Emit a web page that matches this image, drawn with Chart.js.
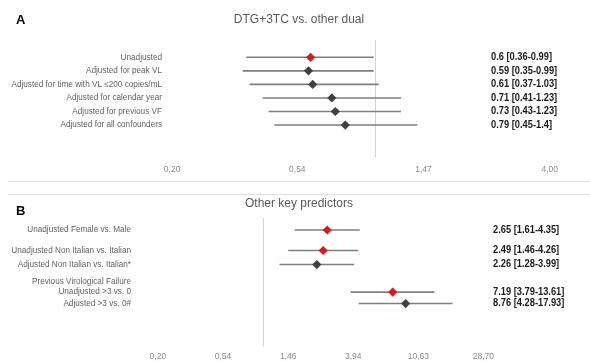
<!DOCTYPE html>
<html>
<head>
<meta charset="utf-8">
<script src="https://cdn.jsdelivr.net/npm/chart.js@4.4.1/dist/chart.umd.min.js"></script>
<style>
  html, body { margin: 0; padding: 0; background: #fff; }
  #wrap { position: relative; width: 590px; height: 362px; overflow: hidden; }
  canvas { position: absolute; left: 0; }
  .rule { position: absolute; left: 8px; right: 0; height: 1px; background: #e0e0e0; }
</style>
</head>
<body>
<div id="wrap">
  <canvas id="panelA" width="590" height="182" style="top:0"></canvas>
  <div class="rule" style="top:181px"></div>
  <div class="rule" style="top:194px"></div>
  <canvas id="panelB" width="590" height="167" style="top:195px"></canvas>
</div>
<script>
// Panel A: DTG+3TC vs. other dual regimens (odds ratio [95% CI])
const labelsA = [
  'Unadjusted',
  'Adjusted for peak VL',
  'Adjusted for time with VL \u2264200 copies/mL',
  'Adjusted for calendar year',
  'Adjusted for previous VF',
  'Adjusted for all confounders'
];
const rowsA = [0, 1, 2, 3, 4, 5];
const orA = [0.6, 0.59, 0.61, 0.71, 0.73, 0.79];
const lowA = [0.36, 0.35, 0.37, 0.41, 0.43, 0.45];
const highA = [0.99, 0.99, 1.03, 1.23, 1.23, 1.4];
const unadjustedA = [true, false, false, false, false, false];
const ticksA = [0.20, 0.54, 1.47, 4.00];
const tickLabelsA = ['0,20', '0,54', '1,47', '4,00'];

// Panel B: other key predictors
const labelsB = [
  'Unadjusted Female vs. Male',
  'Unadjusted Non Italian vs. Italian',
  'Adjusted Non Italian vs. Italian*',
  'Previous Virological Failure',
  'Unadjusted >3 vs. 0',
  'Adjusted >3 vs. 0#'
];
const rowsB = [0, 1.52, 2.56, 3.8, 4.6, 5.45];
const orB = [2.65, 2.49, 2.26, null, 7.19, 8.76];
const lowB = [1.61, 1.46, 1.28, null, 3.79, 4.28];
const highB = [4.35, 4.26, 3.99, null, 13.61, 17.93];
const unadjustedB = [true, true, false, false, true, false];
const ticksB = [0.20, 0.54, 1.46, 3.94, 10.63, 28.70];
const tickLabelsB = ['0,20', '0,54', '1,46', '3,94', '10,63', '28,70'];

const RED = '#e3141d';
const DARK = '#404040';
const WHISKER = '#7f7f7f';
const SANS = "'Liberation Sans', Arial, sans-serif";

// Vertical line at OR = 1
const nullLine = {
  id: 'nullLine',
  beforeDatasetsDraw(chart) {
    const { ctx, chartArea, scales } = chart;
    const x = Math.round(scales.x.getPixelForValue(1)) + 0.5;
    ctx.save();
    ctx.strokeStyle = '#d2d2d2';
    ctx.lineWidth = 1;
    ctx.beginPath();
    ctx.moveTo(x, chartArea.top);
    ctx.lineTo(x, chartArea.bottom);
    ctx.stroke();
    ctx.restore();
  }
};

// "OR [low-high]" text column (slightly condensed bold) and panel letter
const sideText = {
  id: 'sideText',
  afterDatasetsDraw(chart, args, opts) {
    const { ctx, scales } = chart;
    const squeeze = 0.93;
    ctx.save();
    ctx.fillStyle = '#1a1a1a';
    ctx.font = "bold 10px 'Liberation Sans', Arial, sans-serif";
    ctx.textAlign = 'left';
    ctx.textBaseline = 'middle';
    opts.rows.forEach((r, i) => {
      if (opts.or[i] == null) return;
      const y = scales.y.getPixelForValue(r);
      ctx.save();
      ctx.translate(opts.textX, y);
      ctx.scale(squeeze, 1);
      ctx.fillText(`${opts.or[i]} [${opts.low[i]}-${opts.high[i]}]`, 0, 0);
      ctx.restore();
    });
    ctx.fillStyle = '#000';
    ctx.font = "bold 13px 'Liberation Sans', Arial, sans-serif";
    ctx.fillText(opts.letter, 16, opts.letterY);
    ctx.restore();
  }
};

function forestPanel(id, p) {
  const idx = p.rows.map((_, i) => i).filter(i => p.or[i] != null);
  const diamonds = {
    data: idx.map(i => ({ x: p.or[i], y: p.rows[i] })),
    pointStyle: 'rectRot',
    pointRadius: 4.6,
    pointHoverRadius: 4.6,
    pointBorderWidth: 0,
    pointBackgroundColor: idx.map(i => p.unadjusted[i] ? RED : DARK),
    pointBorderColor: idx.map(i => p.unadjusted[i] ? RED : DARK)
  };
  const whiskers = idx.map(i => ({
    data: [{ x: p.low[i], y: p.rows[i] }, { x: p.high[i], y: p.rows[i] }],
    showLine: true,
    borderColor: WHISKER,
    borderWidth: 1.6,
    pointRadius: 0,
    pointHoverRadius: 0
  }));

  return new Chart(document.getElementById(id), {
    type: 'scatter',
    data: { datasets: [diamonds, ...whiskers] },
    options: {
      responsive: false,
      animation: false,
      devicePixelRatio: 1,
      events: [],
      layout: { padding: { left: 8, right: 0, top: 0, bottom: 0 } },
      plugins: {
        legend: { display: false },
        tooltip: { enabled: false },
        title: {
          display: true,
          text: p.title,
          color: '#595959',
          font: { family: SANS, size: 12, weight: 'normal' },
          padding: p.titlePad
        },
        sideText: {
          rows: p.rows, or: p.or, low: p.low, high: p.high,
          textX: p.textX, letter: p.letter, letterY: p.letterY
        }
      },
      scales: {
        x: {
          type: 'logarithmic',
          min: p.xMin,
          max: p.xMax,
          bounds: 'data',
          grid: { display: false, drawTicks: false },
          border: { display: false },
          ticks: {
            autoSkip: false,
            maxRotation: 0,
            padding: p.xTickPad,
            color: '#8a8a8a',
            font: { family: SANS, size: 8.5 },
            callback: (v, i) => p.tickLabels[i]
          },
          afterBuildTicks: s => { s.ticks = p.ticks.map(v => ({ value: v })); },
          afterFit: s => { s.height = p.xAxisH; }
        },
        y: {
          type: 'linear',
          reverse: true,
          min: p.yMin,
          max: p.yMax,
          bounds: 'data',
          grid: { display: false, drawTicks: false },
          border: { display: false },
          ticks: {
            autoSkip: false,
            padding: 3,
            color: '#626262',
            font: { family: SANS, size: 8.2 },
            callback: v => {
              const k = p.rows.indexOf(v);
              return k >= 0 ? p.labels[k] : '';
            }
          },
          afterBuildTicks: s => { s.ticks = p.rows.map(v => ({ value: v })); },
          afterFit: s => { s.width = p.yAxisW; }
        }
      }
    },
    plugins: [nullLine, sideText]
  });
}

forestPanel('panelA', {
  title: 'DTG+3TC vs. other dual',
  titlePad: { top: 12, bottom: 13.6 },
  letter: 'A', letterY: 20,
  labels: labelsA, rows: rowsA, or: orA, low: lowA, high: highA,
  unadjusted: unadjustedA, ticks: ticksA, tickLabels: tickLabelsA,
  xMin: 0.189, xMax: 5.31, yMin: -1.277, yMax: 7.358,
  yAxisW: 157, xAxisH: 25, xTickPad: 8, textX: 491
});

forestPanel('panelB', {
  title: 'Other key predictors',
  titlePad: { top: 1.8, bottom: 6.8 },
  letter: 'B', letterY: 16.5,
  labels: labelsB, rows: rowsB, or: orB, low: lowB, high: highB,
  unadjusted: unadjustedB, ticks: ticksB, tickLabels: tickLabelsB,
  xMin: 0.139, xMax: 136, yMin: -0.889, yMax: 8.667,
  yAxisW: 126, xAxisH: 15, xTickPad: 5, textX: 493
});
</script>
</body>
</html>
